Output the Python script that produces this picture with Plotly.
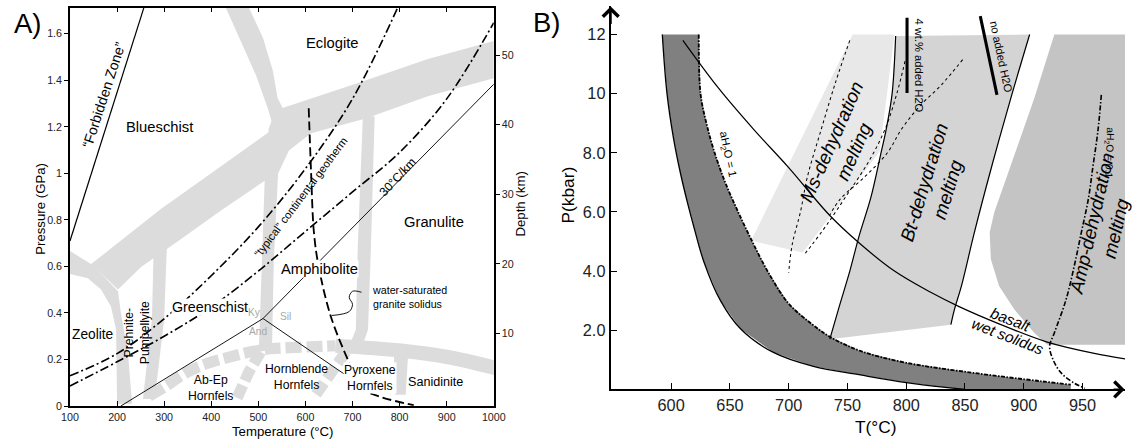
import plotly.graph_objects as go

W, H = 1137, 441
FONT = "Liberation Sans, Arial, Helvetica, sans-serif"

# The photographed page maps figure pixels to picture pixels as
# picture = scale * figure + offset (measured); positions below are given in
# picture pixels of the reference and converted back to figure coordinates.
RX_SCALE, RX_OFF = 0.982, 8.0
RY_SCALE, RY_OFF = 0.9805, 2.4
FS = 1 / RX_SCALE


def fx(R):
    return ((R - RX_OFF) / RX_SCALE) / W


def fy(R):
    return 1 - ((R - RY_OFF) / RY_SCALE) / H


def S(size):
    return size * FS


# ================= Panel A (T in °C, P in GPa) =================
a_xticks = [100, 200, 300, 400, 500, 600, 700, 800, 900, 1000]
a_depth_ticks = [10, 20, 30, 40, 50]

bandArc_T = [431, 463, 495, 520, 533, 569, 541, 531, 510, 480]
bandArc_P = [1.712, 1.569, 1.422, 1.280, 1.193, 1.215, 1.323, 1.440, 1.582, 1.712]
bandEcl_T = [537, 718, 860, 1000, 1000, 860, 728, 612, 565, 539, 516, 522]
bandEcl_P = [1.271, 1.392, 1.491, 1.569, 1.409, 1.331, 1.236, 1.172, 1.098, 0.986, 0.977, 1.193]
bandDiag_T = [145, 293, 420, 533, 520, 420, 336, 251, 202]
bandDiag_P = [0.610, 0.847, 1.029, 1.193, 0.977, 0.839, 0.718, 0.597, 0.501]
bandZeo_T = [100, 149, 202, 208, 223, 232, 200, 198, 187, 166, 138, 100]
bandZeo_P = [0.666, 0.605, 0.493, 0.402, 0.229, 0.01, 0.01, 0.329, 0.428, 0.501, 0.549, 0.567]
bandPrh_T = [278, 306, 300, 280, 255, 274]
bandPrh_P = [0.696, 0.696, 0.372, 0.03, 0.03, 0.372]
bandGrs_T = [514, 542, 533, 529, 501, 508]
bandGrs_P = [0.999, 0.999, 0.631, 0.242, 0.233, 0.631]
bandGrn_T = [722, 747, 739, 733, 722, 692, 707, 711]
bandGrn_P = [1.245, 1.245, 0.674, 0.329, 0.264, 0.251, 0.329, 0.674]
bandSan_T = [788, 818, 813, 790]
bandSan_P = [0.220, 0.220, 0.048, 0.048]
hornSolid_T = [664, 803, 909, 1010]
hornSolid_P = [0.259, 0.238, 0.208, 0.160]
hornDash_T = [268, 304, 336, 378, 442, 484, 527, 569, 618, 664]
hornDash_P = [0.043, 0.086, 0.130, 0.173, 0.212, 0.233, 0.246, 0.251, 0.255, 0.259]
abEp_T = [505, 480, 455]
abEp_P = [0.233, 0.147, 0.035]
pyxH_T = [686, 654, 620]
pyxH_P = [0.233, 0.147, 0.043]

forbidden_T = [100, 257]
forbidden_P = [0.709, 1.712]
geotherm_T = [100, 200, 300, 400, 500, 600, 700, 796]
geotherm_P = [0.13, 0.225, 0.375, 0.56, 0.77, 1.02, 1.32, 1.712]
grad30_T = [100, 200, 300, 400, 500, 600, 700, 800, 900, 1000]
grad30_P = [0.086, 0.19, 0.30, 0.425, 0.58, 0.75, 0.92, 1.09, 1.32, 1.647]
kySil_T = [208, 510, 1000]
kySil_P = [0.0, 0.376, 1.383]
silAnd_T = [510, 682]
silAnd_P = [0.376, 0.138]
solidus_T = [607, 612, 618, 628, 654, 692, 718, 760, 830]
solidus_P = [1.28, 1.007, 0.748, 0.601, 0.385, 0.19, 0.078, 0.039, 0.004]
leader_T = [719, 700, 693, 700, 693, 656]
leader_P = [0.489, 0.493, 0.467, 0.437, 0.406, 0.389]

# ================= Panel B (T in °C, P in kbar) =================
b_xticks = [600, 650, 700, 750, 800, 850, 900, 950]
b_yticks = [2, 4, 6, 8, 10, 12]
b_yticktext = ["2.0", "4.0", "6.0", "8.0", "10", "12"]

darkLeft_T = [592.5, 596.5, 602, 608, 614, 620, 628, 642, 659, 687, 721, 761, 800, 835, 850]
darkLeft_P = [12, 10, 8.5, 7.3, 6.3, 5.4, 4.3, 3.0, 2.05, 1.25, 0.78, 0.49, 0.23, 0.06, 0.0]
darkRight_T = [623.5, 625, 630, 637, 646, 657, 669, 682, 700, 720, 735, 761, 800, 857, 914, 940]
darkRight_P = [12, 10, 9, 8, 7, 6, 5, 4, 2.9, 2.2, 1.78, 1.3, 0.9, 0.56, 0.28, 0.16]

ms_T = [754.5, 668, 712, 777.4, 790]
ms_P = [12.0, 5.03, 4.63, 8.04, 12.0]

btLeft_T = [791, 788, 783, 778, 770, 760, 752, 743, 735]
btLeft_P = [11.95, 10.0, 8.8, 7.9, 6.5, 5.2, 4.0, 2.8, 1.7]
btRight_T = [905, 889, 873, 858, 847, 841, 838]
btRight_P = [12.0, 9.85, 7.58, 5.31, 3.5, 2.7, 2.19]

amp_T = [926, 918, 909, 899, 891, 883, 875, 871, 872, 879, 892, 909, 920, 1000, 1000]
amp_P = [12.0, 10.98, 9.85, 8.71, 7.8, 6.9, 6.0, 5.31, 4.4, 3.5, 2.7, 1.91, 1.51, 1.51, 12.0]

basalt_T = [610, 640, 670, 700, 735, 760, 790, 820, 845, 880, 920, 960, 1000]
basalt_P = [11.8, 10.2, 8.8, 7.5, 5.88, 4.95, 4.0, 3.3, 2.8, 2.2, 1.6, 1.22, 0.95]

dash1_T = [752, 740, 727, 716, 710, 703, 700]
dash1_P = [11.8, 10.4, 8.7, 7.2, 6.0, 4.9, 3.95]
dash2_T = [799, 792, 782, 768, 750, 733, 720, 713]
dash2_P = [11.1, 10.0, 8.8, 7.7, 6.6, 5.6, 4.9, 4.55]
dash3_T = [848, 830, 812, 796, 784, 765, 744, 735]
dash3_P = [11.15, 10.3, 9.6, 8.8, 8.0, 7.2, 6.44, 5.9]

wt4_T = [800.7, 800.7]
wt4_P = [12.57, 10.02]
noH2O_T = [863, 877.2]
noH2O_P = [12.62, 9.96]

a01_T = [966, 963, 959, 955, 949, 943, 936, 926, 922, 925, 932, 943, 952]
a01_P = [9.96, 8.71, 7.58, 6.45, 5.31, 4.18, 3.04, 1.91, 1.46, 1.0, 0.55, 0.21, 0.04]

fig = go.Figure()


def poly(T, P, color, xa="x", ya="y"):
    fig.add_trace(go.Scatter(x=T + [T[0]], y=P + [P[0]], mode="lines", fill="toself",
                             fillcolor=color, line=dict(width=0, color=color),
                             hoverinfo="skip", showlegend=False, xaxis=xa, yaxis=ya))


def line(T, P, color="black", width=1.0, dash="solid", xa="x", ya="y", shape="linear"):
    fig.add_trace(go.Scatter(x=T, y=P, mode="lines",
                             line=dict(color=color, width=width * FS, dash=dash, shape=shape),
                             hoverinfo="skip", showlegend=False, xaxis=xa, yaxis=ya))


BAND = "#dcdcdc"
for bt, bp in [(bandArc_T, bandArc_P), (bandEcl_T, bandEcl_P), (bandDiag_T, bandDiag_P),
               (bandZeo_T, bandZeo_P), (bandPrh_T, bandPrh_P), (bandGrs_T, bandGrs_P),
               (bandGrn_T, bandGrn_P), (bandSan_T, bandSan_P)]:
    poly(bt, bp, BAND)
line(hornSolid_T, hornSolid_P, BAND, 14, shape="spline")
line(hornDash_T, hornDash_P, BAND, 11, dash="16px,5px", shape="spline")
line(abEp_T, abEp_P, BAND, 11, dash="14px,5px")
line(pyxH_T, pyxH_P, BAND, 11, dash="14px,5px")

line(forbidden_T, forbidden_P, width=1.2)
line(geotherm_T, geotherm_P, width=1.6, dash="9px,3px,2px,3px", shape="spline")
line(grad30_T, grad30_P, width=1.6, dash="9px,3px,2px,3px", shape="spline")
line(kySil_T, kySil_P, width=0.9)
line(silAnd_T, silAnd_P, width=0.9)
line(solidus_T, solidus_P, width=1.8, dash="9px,4px", shape="spline")
line(leader_T, leader_P, width=0.9, shape="spline")
fig.add_trace(go.Scatter(x=[100], y=[0], mode="markers", marker=dict(opacity=0),
                         hoverinfo="skip", showlegend=False, xaxis="x", yaxis="y2"))

poly(ms_T, ms_P, "#e8e8e8", "x2", "y3")
poly(btLeft_T + btRight_T[::-1], btLeft_P + btRight_P[::-1], "#d4d4d4", "x2", "y3")
poly(amp_T, amp_P, "#c4c4c4", "x2", "y3")
dark_T = darkLeft_T + [940] + darkRight_T[::-1]
dark_P = darkLeft_P + [0.0] + darkRight_P[::-1]
poly(dark_T, dark_P, "#808080", "x2", "y3")
line(darkLeft_T, darkLeft_P, width=1.3, xa="x2", ya="y3", shape="spline")
line(darkRight_T, darkRight_P, width=1.8, dash="4px,1.5px,1.5px,1.5px", xa="x2", ya="y3", shape="spline")
line(btLeft_T, btLeft_P, width=1.2, xa="x2", ya="y3", shape="spline")
line(btRight_T, btRight_P, width=1.2, xa="x2", ya="y3", shape="spline")
line(basalt_T, basalt_P, width=1.2, xa="x2", ya="y3", shape="spline")
for dt, dp in [(dash1_T, dash1_P), (dash2_T, dash2_P), (dash3_T, dash3_P)]:
    line(dt, dp, width=1.0, dash="3px,3px", xa="x2", ya="y3", shape="spline")
line(wt4_T, wt4_P, width=3, xa="x2", ya="y3")
line(noH2O_T, noH2O_P, width=3, xa="x2", ya="y3")
line(a01_T, a01_P, width=1.6, dash="5px,2px,1.5px,2px", xa="x2", ya="y3", shape="spline")

ann = []


def txt(s, x, y, size, angle=0, xref="x", yref="y", color="black", bg=None, xanchor="center", align="center"):
    d = dict(text=s, x=x, y=y, xref=xref, yref=yref, showarrow=False, textangle=angle,
             font=dict(family=FONT, size=S(size), color=color), xanchor=xanchor, yanchor="middle",
             align=align, borderpad=0)
    if bg:
        d["bgcolor"] = bg
    ann.append(d)


txt("Eclogite", 656, 1.561, 14.5)
txt("Blueschist", 291, 1.197, 14.5)
txt("Granulite", 873, 0.791, 14.5)
txt("Amphibolite", 629, 0.588, 14.5, bg="white")
txt("Greenschist", 398, 0.424, 14, bg="white")
txt("Zeolite", 149, 0.307, 13.5)
txt("Prehnite-<br>Pumpellyite", 244, 0.316, 12, -90)
txt("Ab-Ep<br>Hornfels", 399, 0.078, 12)
txt("Hornblende<br>Hornfels", 580, 0.125, 12)
txt("Pyroxene<br>Hornfels", 737, 0.121, 12, bg="white")
txt("Sanidinite", 877, 0.104, 12.4)
txt("water-saturated<br>granite solidus", 739, 0.467, 10.5, xanchor="left", align="left")
txt("Ky", 492, 0.402, 10, color="#a8a8a8")
txt("Sil", 558, 0.385, 10, color="#a8a8a8")
txt("And", 499, 0.320, 10, color="#a8a8a8")
txt("\u201cForbidden Zone\u201d", 172, 1.336, 14, -72)
txt("\u201ctypical\u201d continental geotherm", 590, 0.90, 11, -53)
txt("30\u00b0C/km", 796, 0.985, 12, -47)

txt("<i>Ms-dehydration</i><br><i>melting</i>", 746, 8.2, 18.5, -66, "x2", "y3")
txt("<i>Bt-dehydration</i><br><i>melting</i>", 825, 6.86, 18.5, -73, "x2", "y3")
txt("<i>Amp-dehydration</i><br><i>melting</i>", 968, 5.5, 18.5, -77, "x2", "y3")
txt("<i>basalt</i>", 889, 2.38, 15, 21, "x2", "y3")
txt("<i>wet solidus</i>", 887, 1.8, 15, 21, "x2", "y3")
txt("aH<sub>2</sub>O = 1", 648, 7.97, 11, 78, "x2", "y3")
txt("4 wt.% added H2O", 810.5, 10.97, 11, 90, "x2", "y3")
txt("no added H2O", 881, 11.25, 11, 78, "x2", "y3")
txt("aH<sub>2</sub>O = 0.1", 972, 8.0, 10, 92, "x2", "y3")


def ptxt(s, px, py, size, angle=0, **kw):
    txt(s, fx(px), fy(py), size, angle, "paper", "paper", **kw)


ptxt("A)", 27, 26, 27)
ptxt("B)", 546, 25, 27)
ptxt("Pressure (GPa)", 40, 210, 13, -90)
ptxt("Depth (km)", 520, 205, 13, -90)
ptxt("Temperature (\u00b0C)", 282, 431, 13)
ptxt("P(kbar)", 567, 196, 17, -90)
ptxt("T(\u00b0C)", 875, 427, 17)

# panel B x range ends where the figure ends in the photograph
B_T_MAX = 548.6 + (RX_SCALE * W + RX_OFF - 610) / 1.176
ann.append(dict(x=B_T_MAX - 0.3, y=0, ax=B_T_MAX - 11, ay=0, xref="x2", yref="y3", axref="x2", ayref="y3",
                text="", showarrow=True, arrowhead=4, arrowsize=1.5, arrowwidth=2 * FS, arrowcolor="black"))
ann.append(dict(x=548.6, y=12.95, ax=548.6, ay=12.3, xref="x2", yref="y3", axref="x2", ayref="y3",
                text="", showarrow=True, arrowhead=4, arrowsize=1.5, arrowwidth=2 * FS, arrowcolor="black"))

tickfontA = dict(family=FONT, size=S(10.5), color="#222")
tickfontB = dict(family=FONT, size=S(16), color="#222")

fig.update_layout(
    width=W, height=H, autosize=False,
    margin=dict(l=0, r=0, t=0, b=0),
    paper_bgcolor="white", plot_bgcolor="rgba(0,0,0,0)",
    showlegend=False,
    annotations=ann,
    xaxis=dict(domain=[fx(69), fx(493)], range=[100, 1000], anchor="y",
               showline=True, linecolor="black", linewidth=1.6, mirror="ticks",
               ticks="inside", ticklen=5, tickcolor="black", tickwidth=1.2,
               tickvals=a_xticks, tickfont=tickfontA, showgrid=False, zeroline=False),
    yaxis=dict(domain=[fy(406), fy(10)], range=[0, 1.712], anchor="x",
               showline=True, linecolor="black", linewidth=1.6,
               ticks="outside", ticklen=4, tickcolor="black", tickwidth=1.2,
               tick0=0, dtick=0.2, tickfont=tickfontA, showgrid=False, zeroline=False),
    yaxis2=dict(overlaying="y", side="right", anchor="x", range=[-0.39, 56.8],
                showline=True, linecolor="black", linewidth=1.6,
                ticks="outside", ticklen=4, tickcolor="black", tickwidth=1.2,
                tickvals=a_depth_ticks, tickfont=tickfontA, showgrid=False, zeroline=False),
    xaxis2=dict(domain=[fx(610), 1.0], range=[548.6, B_T_MAX], anchor="y3",
                showline=True, linecolor="black", linewidth=2,
                ticks="inside", ticklen=6, tickcolor="black", tickwidth=1.4,
                tickvals=b_xticks, tickfont=tickfontB, showgrid=False, zeroline=False),
    yaxis3=dict(domain=[fy(389.5), fy(8)], range=[0, 12.976], anchor="x2",
                showline=True, linecolor="black", linewidth=2,
                ticks="inside", ticklen=6, tickcolor="black", tickwidth=1.4,
                tickvals=b_yticks, ticktext=b_yticktext, tickfont=tickfontB,
                showgrid=False, zeroline=False),
)

fig.write_html("out.html")
